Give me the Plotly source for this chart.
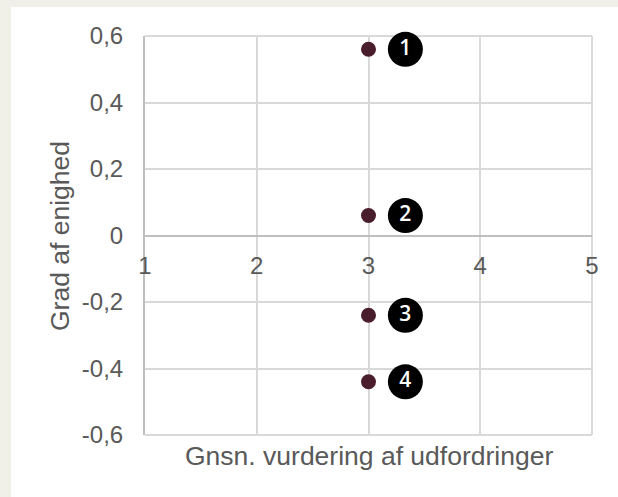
import plotly.graph_objects as go

# Data
x_vals = [3, 3, 3, 3]
y_vals = [0.56, 0.06, -0.24, -0.44]
labels = ["1", "2", "3", "4"]
y_tickvals = [0.6, 0.4, 0.2, 0, -0.2, -0.4, -0.6]
y_ticktext = ["0,6", "0,4", "0,2", "0", "-0,2", "-0,4", "-0,6"]
x_tickvals = [1, 2, 3, 4, 5]
x_ticktext = ["1", "2", "3", "4", "5"]

W, H = 618, 497
ML, MR, MT, MB = 145, 26, 36, 62
PW, PH = W - ML - MR, H - MT - MB

def px_x(p):
    return (p - ML) / PW

def px_y(p):
    return (H - MB - p) / PH

badge_dx = 0.33
BEIGE = "#f0f0e8"
GRID = "#d9d9d9"
FONT = "Liberation Sans, Arial, sans-serif"

fig = go.Figure()
fig.add_trace(go.Scatter(
    x=x_vals, y=y_vals, mode="markers",
    marker=dict(size=15, color="#4a1d2d"),
    hoverinfo="skip", showlegend=False,
))
fig.add_trace(go.Scatter(
    x=[v + badge_dx for v in x_vals], y=y_vals, mode="markers+text",
    marker=dict(size=35, color="#000000"),
    text=labels, textposition="middle center",
    textfont=dict(family="Open Sans, sans-serif", size=21, color="white", weight=600),
    hoverinfo="skip", showlegend=False, cliponaxis=False,
))

fig.update_layout(
    width=W, height=H,
    margin=dict(l=ML, r=MR, t=MT, b=MB, pad=0),
    paper_bgcolor="white", plot_bgcolor="white",
    separators=",.",
    font=dict(family=FONT, size=24, color="#595959"),
    shapes=[
        dict(type="rect", xref="paper", yref="paper", layer="below",
             x0=px_x(-5), x1=px_x(11), y0=px_y(H + 5), y1=px_y(-5),
             fillcolor=BEIGE, line=dict(width=0)),
        dict(type="rect", xref="paper", yref="paper", layer="below",
             x0=px_x(-5), x1=px_x(W + 5), y0=px_y(7), y1=px_y(-5),
             fillcolor=BEIGE, line=dict(width=0)),
        # outer gridlines at the range ends (top, right, bottom)
        dict(type="line", xref="paper", yref="paper", layer="below",
             x0=0, x1=1, y0=1, y1=1, line=dict(color=GRID, width=2)),
        dict(type="line", xref="paper", yref="paper", layer="below",
             x0=1, x1=1, y0=0, y1=1, line=dict(color=GRID, width=2)),
        dict(type="line", xref="paper", yref="paper", layer="below",
             x0=0, x1=1, y0=0, y1=0, line=dict(color=GRID, width=2)),
    ],
    annotations=[
        dict(text="Grad af enighed", xref="paper", yref="paper",
             x=px_x(60), y=px_y(236), xanchor="center", yanchor="middle",
             textangle=-90, showarrow=False,
             font=dict(family=FONT, size=26.5, color="#595959")),
        dict(text="Gnsn. vurdering af udfordringer", xref="paper", yref="paper",
             x=px_x(369), y=px_y(456), xanchor="center", yanchor="middle",
             showarrow=False,
             font=dict(family=FONT, size=26.5, color="#595959")),
    ],
)

fig.update_xaxes(
    range=[1, 5], tickvals=x_tickvals, ticktext=x_ticktext,
    anchor="free", position=0.5,
    showline=True, linecolor="#bfbfbf", linewidth=2,
    showgrid=True, gridcolor=GRID, gridwidth=2,
    zeroline=False, ticks="", ticklabelstandoff=9,
    tickfont=dict(family=FONT, size=24, color="#595959"),
)
fig.update_yaxes(
    range=[-0.6, 0.6], tickvals=y_tickvals, ticktext=y_ticktext,
    showline=True, linecolor="#bfbfbf", linewidth=2,
    showgrid=True, gridcolor=GRID, gridwidth=2,
    zeroline=False, ticks="", ticklabelstandoff=15,
    tickfont=dict(family=FONT, size=24, color="#595959"),
)

fig.write_html(
    "out.html",
    config={"displayModeBar": False},
    post_script="document.body.style.margin='0';document.body.style.background='" + BEIGE + "';",
)
